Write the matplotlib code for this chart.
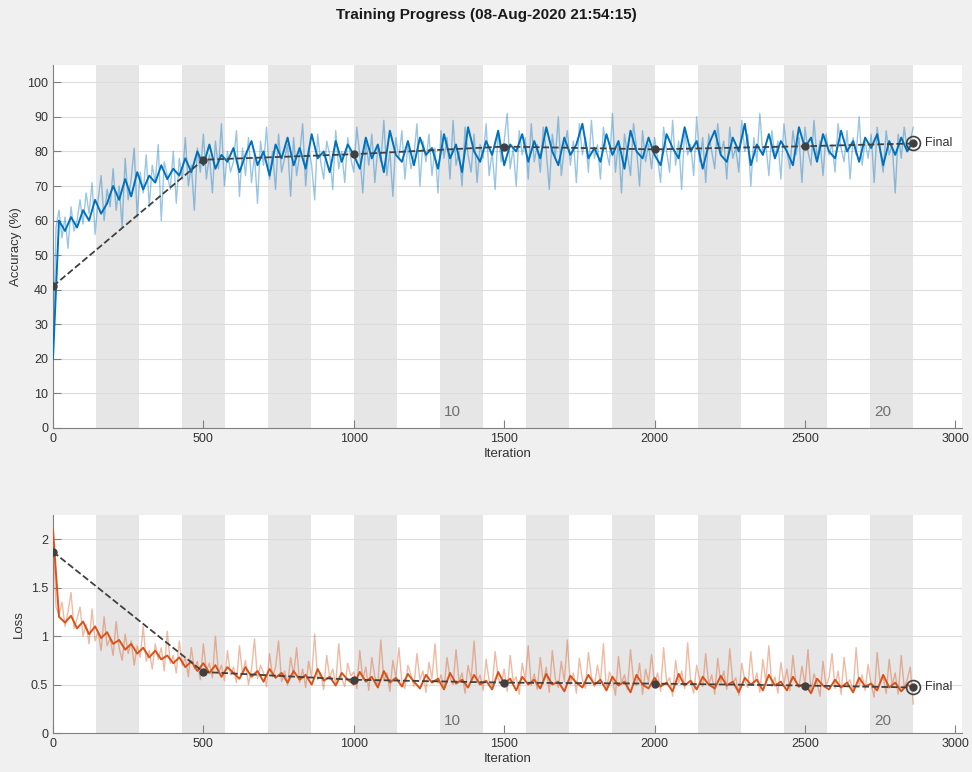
import numpy as np
import matplotlib
matplotlib.use("Agg")
from matplotlib import pyplot as plt

plt.rcParams['font.family'] = ['Liberation Sans', 'DejaVu Sans']

# iterations per epoch / total
iters_per_epoch = 143
n_epochs = 20
last_iter = 2860

# raw mini-batch accuracy, every 10 iterations (0..2860)
acc_raw = [
    20, 58, 63, 55, 61, 52, 64, 57, 60, 66,
    59, 68, 62, 71, 56, 66, 73, 60, 69, 64,
    75, 63, 70, 58, 78, 66, 72, 81, 61, 74,
    68, 79, 64, 76, 71, 82, 60, 77, 73, 69,
    80, 65, 78, 72, 84, 70, 76, 63, 81, 74,
    85, 72, 79, 68, 83, 75, 88, 70, 80, 74,
    77, 86, 67, 81, 73, 84, 71, 79, 65, 83,
    76, 87, 72, 80, 69, 85, 74, 78, 82, 67,
    84, 73, 79, 88, 70, 81, 76, 66, 85, 77,
    72, 83, 79, 69, 86, 75, 80, 71, 84, 78,
    74, 87, 79, 68, 83, 76, 85, 71, 81, 77,
    89, 73, 80, 67, 84, 78, 86, 72, 82, 75,
    79, 88, 70, 83, 77, 85, 73, 81, 68, 86,
    78, 84, 72, 89, 76, 80, 70, 87, 79, 74,
    85, 71, 82, 78, 88, 73, 80, 69, 86, 77,
    83, 91, 75, 81, 70, 86, 79, 84, 72, 88,
    77, 82, 74, 87, 80, 69, 85, 78, 90, 73,
    81, 86, 76, 83, 71, 88, 79, 84, 74, 89,
    78, 82, 72, 87, 80, 76, 91, 74, 83, 68,
    85, 79, 73, 88, 81, 70, 86, 77, 82, 75,
    84, 78, 71, 87, 80, 74, 89, 76, 83, 69,
    86, 79, 82, 73, 90, 77, 84, 71, 85, 80,
    75, 88, 79, 83, 72, 87, 78, 81, 74, 89,
    80, 85, 70, 84, 77, 91, 79, 82, 73, 86,
    78, 83, 72, 88, 80, 75, 86, 79, 84, 71,
    87, 80, 76, 89, 78, 83, 73, 85, 79, 82,
    74, 88, 81, 77, 86, 72, 84, 79, 90, 76,
    83, 78, 85, 71, 87, 80, 74, 86, 79, 82,
    68, 85, 78, 87, 80, 83, 87,
]

# smoothed accuracy, every 20 iterations (0..2860)
acc_smooth = [
    20, 60, 57, 61, 58, 63, 60, 66, 62, 65,
    70, 66, 72, 67, 74, 69, 73, 71, 76, 72,
    75, 73, 78, 74, 80, 76, 82, 75, 79, 77,
    81, 74, 79, 83, 76, 80, 73, 82, 78, 84,
    76, 81, 75, 85, 78, 80, 74, 83, 77, 82,
    79, 75, 84, 78, 82, 74, 86, 79, 77, 83,
    76, 84, 79, 81, 75, 85, 78, 82, 74, 87,
    80, 77, 83, 79, 86, 76, 82, 80, 85, 77,
    83, 78, 87, 80, 76, 84, 79, 82, 88, 78,
    81, 77, 85, 79, 83, 75, 86, 80, 78, 84,
    79, 76, 85, 81, 78, 87, 80, 83, 75, 82,
    86, 79, 77, 84, 80, 88, 76, 82, 79, 85,
    78, 83, 80, 76, 87, 81, 84, 77, 85, 80,
    78, 86, 80, 83, 77, 84, 81, 85, 76, 83,
    79, 84, 80, 83,
]

# raw mini-batch loss, every 10 iterations (0..2860)
loss_raw = [
    2.15, 1.30, 1.22, 1.35, 1.10, 1.25, 1.45, 1.08, 1.18, 1.30,
    1.00, 1.12, 0.92, 1.28, 0.95, 1.05, 0.85, 1.20, 0.90, 0.98,
    0.80, 1.15, 0.88, 0.75, 1.02, 0.82, 0.95, 0.70, 0.90, 0.78,
    1.10, 0.74, 0.85, 0.66, 0.92, 0.76, 0.88, 0.64, 1.05, 0.72,
    0.80, 0.62, 0.95, 0.70, 0.78, 0.58, 0.88, 0.66, 0.74, 0.55,
    0.92, 0.64, 0.72, 0.57, 1.00, 0.62, 0.70, 0.54, 0.85, 0.60,
    0.68, 0.52, 0.90, 0.61, 0.75, 0.50, 0.66, 0.97, 0.56, 0.70,
    0.62, 0.48, 0.82, 0.58, 0.68, 0.95, 0.53, 0.64, 0.49, 0.78,
    0.60, 0.88, 0.52, 0.66, 0.47, 0.74, 0.58, 1.02, 0.55, 0.62,
    0.45, 0.80, 0.57, 0.66, 0.50, 0.92, 0.56, 0.48, 0.72, 0.59,
    0.63, 0.46, 0.85, 0.55, 0.68, 0.44, 0.78, 0.58, 0.50, 0.96,
    0.54, 0.62, 0.43, 0.75, 0.57, 0.88, 0.52, 0.46, 0.70, 0.60,
    0.48, 0.82, 0.55, 0.64, 0.42, 0.73, 0.56, 0.92, 0.51, 0.60,
    0.45, 0.78, 0.57, 0.50, 0.86, 0.53, 0.62, 0.41, 0.70, 0.55,
    0.95, 0.52, 0.60, 0.44, 0.76, 0.54, 0.48, 0.84, 0.57, 0.50,
    0.66, 0.43, 0.80, 0.53, 0.58, 0.40, 0.72, 0.55, 0.90, 0.49,
    0.61, 0.45, 0.78, 0.52, 0.68, 0.42, 0.85, 0.56, 0.47, 0.74,
    0.53, 0.96, 0.50, 0.62, 0.41, 0.77, 0.55, 0.46, 0.83, 0.58,
    0.48, 0.70, 0.52, 0.92, 0.44, 0.63, 0.55, 0.39, 0.79, 0.51,
    0.60, 0.45, 0.86, 0.54, 0.49, 0.72, 0.40, 0.66, 0.53, 0.81,
    0.50, 0.62, 0.43, 0.88, 0.52, 0.57, 0.38, 0.75, 0.51, 0.64,
    0.46, 0.93, 0.53, 0.41, 0.70, 0.55, 0.48, 0.82, 0.50, 0.60,
    0.40, 0.77, 0.52, 0.64, 0.45, 0.87, 0.51, 0.57, 0.39, 0.72,
    0.54, 0.47, 0.84, 0.50, 0.62, 0.42, 0.76, 0.53, 0.90, 0.48,
    0.58, 0.41, 0.73, 0.51, 0.66, 0.44, 0.80, 0.52, 0.47, 0.69,
    0.50, 0.86, 0.43, 0.61, 0.52, 0.38, 0.74, 0.49, 0.57, 0.82,
    0.46, 0.64, 0.40, 0.78, 0.51, 0.55, 0.42, 0.88, 0.48, 0.60,
    0.44, 0.71, 0.50, 0.37, 0.83, 0.52, 0.58, 0.41, 0.76, 0.49,
    0.62, 0.40, 0.80, 0.47, 0.55, 0.68, 0.30,
]

# smoothed loss, every 20 iterations (0..2860)
loss_smooth = [
    2.10, 1.20, 1.14, 1.21, 1.08, 1.15, 1.02, 1.10, 0.98, 1.04,
    0.92, 0.96, 0.86, 0.92, 0.82, 0.88, 0.78, 0.85, 0.76, 0.80,
    0.72, 0.78, 0.68, 0.74, 0.64, 0.72, 0.62, 0.70, 0.58, 0.68,
    0.62, 0.56, 0.68, 0.58, 0.64, 0.53, 0.66, 0.57, 0.62, 0.52,
    0.64, 0.55, 0.60, 0.50, 0.66, 0.54, 0.58, 0.49, 0.62, 0.55,
    0.50, 0.63, 0.53, 0.58, 0.47, 0.64, 0.52, 0.57, 0.48, 0.61,
    0.53, 0.46, 0.60, 0.52, 0.56, 0.45, 0.62, 0.51, 0.55, 0.47,
    0.60, 0.50, 0.54, 0.45, 0.63, 0.51, 0.56, 0.44, 0.58, 0.50,
    0.55, 0.46, 0.61, 0.50, 0.53, 0.43, 0.59, 0.52, 0.47, 0.60,
    0.50, 0.55, 0.44, 0.58, 0.49, 0.53, 0.42, 0.60, 0.50, 0.46,
    0.57, 0.48, 0.52, 0.43, 0.61, 0.49, 0.54, 0.45, 0.58, 0.50,
    0.46, 0.59, 0.49, 0.53, 0.42, 0.57, 0.50, 0.55, 0.44, 0.60,
    0.49, 0.53, 0.44, 0.58, 0.48, 0.51, 0.41, 0.56, 0.49, 0.45,
    0.55, 0.47, 0.52, 0.42, 0.57, 0.48, 0.51, 0.44, 0.60, 0.47,
    0.52, 0.43, 0.50, 0.46,
]

# validation points
val_iter = [0, 500, 1000, 1500, 2000, 2500, 2860]
val_acc = [41.0, 77.6, 79.2, 81.4, 80.6, 81.5, 82.3]
val_loss = [1.87, 0.63, 0.55, 0.52, 0.51, 0.49, 0.47]

epoch_labels = [10, 20]

it_raw = np.arange(0, last_iter + 1, 10)
it_smooth = np.arange(0, last_iter + 1, 20)

blue = '#0072BD'
orange = '#D95319'
dark = '#404040'

fig = plt.figure(figsize=(9.72, 7.72), dpi=100)
fig.patch.set_facecolor('#f0f0f0')
ax1 = fig.add_axes([0.0545, 0.4456, 0.9352, 0.4702])
ax2 = fig.add_axes([0.0545, 0.0505, 0.9352, 0.2824])


def style_axes(ax, ylim, yticks, yticklabels, ylabel):
    ax.set_facecolor('white')
    ax.set_xlim(0, 3022)
    ax.set_ylim(*ylim)
    ax.set_xticks(range(0, 3001, 500))
    ax.set_yticks(yticks)
    ax.set_yticklabels(yticklabels)
    for e in range(2, n_epochs + 1, 2):
        ax.axvspan((e - 1) * iters_per_epoch, e * iters_per_epoch,
                   color='#e6e6e6', lw=0, zorder=0)
    ax.set_axisbelow(True)
    ax.yaxis.grid(True, color='#dcdcdc', lw=0.8)
    for s in ['top', 'right']:
        ax.spines[s].set_visible(False)
    for s in ['left', 'bottom']:
        ax.spines[s].set_color('#808080')
        ax.spines[s].set_linewidth(0.8)
    ax.tick_params(direction='in', length=6, width=0.8, color='#808080',
                   labelsize=9, labelcolor='#333333')
    ax.set_xlabel('Iteration', fontsize=9.5, color='#333333', labelpad=2)
    ax.set_ylabel(ylabel, fontsize=9.5, color='#333333', labelpad=4)
    ytxt = ylim[0] + (ylim[1] - ylim[0]) * 0.025
    for e in epoch_labels:
        ax.text((e - 1) * iters_per_epoch + 14, ytxt, str(e), fontsize=11,
                color='#707070', ha='left', va='bottom')


style_axes(ax1, (0, 105), range(0, 101, 10),
           [str(v) for v in range(0, 101, 10)], 'Accuracy (%)')
style_axes(ax2, (0, 2.25), [0, 0.5, 1, 1.5, 2],
           ['0', '0.5', '1', '1.5', '2'], 'Loss')

# accuracy
ax1.plot(it_raw, acc_raw, color=blue, alpha=0.4, lw=1.0, zorder=2)
ax1.plot(it_smooth, acc_smooth, color=blue, lw=1.4, zorder=3)
ax1.plot(val_iter, val_acc, '--', color=dark, lw=1.3, marker='o',
         markersize=5, zorder=4)
ax1.plot(val_iter[-1], val_acc[-1], 'o', mfc='none', mec=dark,
         markersize=10, mew=1.2, zorder=5)
ax1.text(val_iter[-1] + 40, val_acc[-1], 'Final', fontsize=9,
         color='#333333', va='center')

# loss
ax2.plot(it_raw, loss_raw, color=orange, alpha=0.4, lw=1.0, zorder=2)
ax2.plot(it_smooth, loss_smooth, color=orange, lw=1.4, zorder=3)
ax2.plot(val_iter, val_loss, '--', color=dark, lw=1.3, marker='o',
         markersize=5, zorder=4)
ax2.plot(val_iter[-1], val_loss[-1], 'o', mfc='none', mec=dark,
         markersize=10, mew=1.2, zorder=5)
ax2.text(val_iter[-1] + 40, val_loss[-1], 'Final', fontsize=9,
         color='#333333', va='center')

fig.text(0.5, 0.98, 'Training Progress (08-Aug-2020 21:54:15)',
         ha='center', va='center', fontsize=11, fontweight='bold',
         color='#1a1a1a')

fig.savefig('out.png', dpi=100, facecolor=fig.get_facecolor())
